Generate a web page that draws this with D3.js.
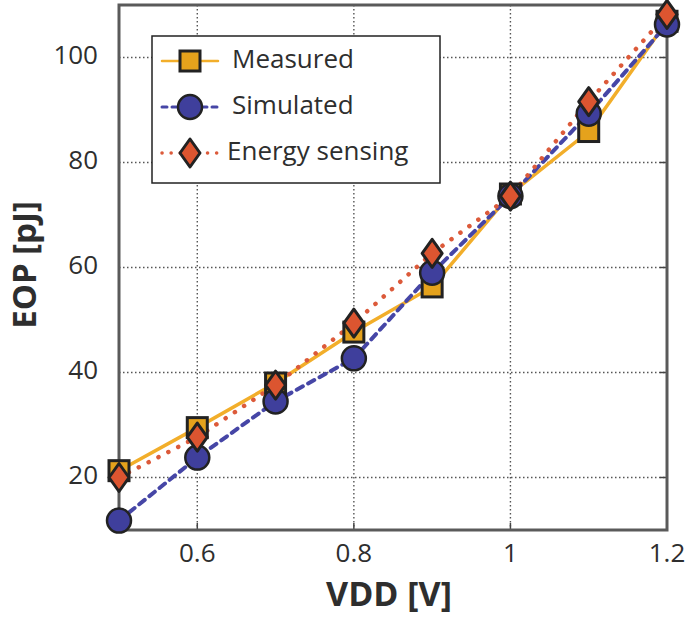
<!DOCTYPE html>
<html>
<head>
<meta charset="utf-8">
<script src="https://cdn.jsdelivr.net/npm/d3@7"></script>
<style>
  body { margin: 0; background: #fff; }
  text { font-family: "Open Sans", Lato, sans-serif; fill: #2e2e2e; }
</style>
</head>
<body>
<div id="chart"></div>
<script>
var vdd = [0.5, 0.6, 0.7, 0.8, 0.9, 1.0, 1.1, 1.2];
var measured = [21.3, 29.5, 38, 47.7, 56.3, 74, 85.9, 106.9];
var simulated = [11.8, 23.8, 34.5, 42.7, 59, 73.6, 89.3, 106.3];
var energySensing = [20, 27.7, 37.6, 49.4, 62.7, 73.6, 91.6, 108.2];
var xTicks = [0.6, 0.8, 1, 1.2];
var yTicks = [20, 40, 60, 80, 100];
var seriesNames = ["Measured", "Simulated", "Energy sensing"];

var width = 698, height = 619;
var margin = { top: 5, right: 31, bottom: 89, left: 119 };

var svg = d3.select("#chart")
    .append("svg")
    .attr("width", width)
    .attr("height", height);

var pw = width - margin.left - margin.right,
    ph = height - margin.top - margin.bottom;

var g = svg.append("g")
    .attr("transform", "translate(" + margin.left + "," + margin.top + ")");

var x = d3.scaleLinear().domain([0.5, 1.2]).range([0, pw]);
var y = d3.scaleLinear().domain([10, 110]).range([ph, 0]);

// grid
g.append("g")
    .selectAll("line")
    .data(xTicks.filter(function (d) { return d < 1.2; }))
    .enter()
    .append("line")
    .attr("x1", function (d) { return x(d); })
    .attr("x2", function (d) { return x(d); })
    .attr("y1", 0)
    .attr("y2", ph)
    .attr("stroke", "#555")
    .attr("stroke-width", 1.4)
    .style("stroke-dasharray", "1.5,2.5");

g.append("g")
    .selectAll("line")
    .data(yTicks)
    .enter()
    .append("line")
    .attr("x1", 0)
    .attr("x2", pw)
    .attr("y1", function (d) { return y(d); })
    .attr("y2", function (d) { return y(d); })
    .attr("stroke", "#555")
    .attr("stroke-width", 1.4)
    .style("stroke-dasharray", "1.5,2.5");

// inner tick marks on bottom and right
g.append("g")
    .selectAll("line")
    .data(xTicks)
    .enter()
    .append("line")
    .attr("x1", function (d) { return x(d); })
    .attr("x2", function (d) { return x(d); })
    .attr("y1", ph)
    .attr("y2", ph - 7)
    .attr("stroke", "#444")
    .attr("stroke-width", 1.5);

g.append("g")
    .selectAll("line")
    .data(yTicks)
    .enter()
    .append("line")
    .attr("x1", pw)
    .attr("x2", pw - 7)
    .attr("y1", function (d) { return y(d); })
    .attr("y2", function (d) { return y(d); })
    .attr("stroke", "#444")
    .attr("stroke-width", 1.5);

// frame
g.append("rect")
    .attr("width", pw)
    .attr("height", ph)
    .attr("fill", "none")
    .attr("stroke", "#5a5a5a")
    .attr("stroke-width", 3);

// tick labels
g.append("g")
    .selectAll("text")
    .data(xTicks)
    .enter()
    .append("text")
    .attr("x", function (d) { return x(d); })
    .attr("y", ph + 25)
    .attr("text-anchor", "middle")
    .attr("dominant-baseline", "middle")
    .style("font-size", "26px")
    .text(function (d) { return d3.format("~g")(d); });

g.append("g")
    .selectAll("text")
    .data(yTicks)
    .enter()
    .append("text")
    .attr("x", -21)
    .attr("y", function (d) { return y(d); })
    .attr("text-anchor", "end")
    .attr("dominant-baseline", "middle")
    .style("font-size", "26px")
    .text(function (d) { return d; });

// axis titles
svg.append("text")
    .attr("x", 389)
    .attr("y", 597)
    .attr("text-anchor", "middle")
    .attr("dominant-baseline", "middle")
    .style("font-size", "34px")
    .style("font-weight", "bold")
    .text("VDD [V]");

svg.append("text")
    .attr("transform", "translate(27,265) rotate(-90)")
    .attr("text-anchor", "middle")
    .attr("dominant-baseline", "middle")
    .style("font-size", "33px")
    .style("font-weight", "bold")
    .text("EOP [pJ]");

var series = [
    { name: seriesNames[0], values: measured, color: "#f2ae2a", fill: "#e5a21c", dash: null, width: 3.5, shape: "square" },
    { name: seriesNames[1], values: simulated, color: "#4646a6", fill: "#3f3f9c", dash: "7,6", width: 4, shape: "circle" },
    { name: seriesNames[2], values: energySensing, color: "#dc5a3a", fill: "#dc5530", dash: "0.1,11", width: 4.5, shape: "diamond" }
];

var line = d3.line()
    .x(function (d, i) { return x(vdd[i]); })
    .y(function (d) { return y(d); });

var drawMarker = function (sel, s, cx, cy) {
    if (s.shape === "square") {
        sel.append("rect")
            .attr("x", cx - 10).attr("y", cy - 10)
            .attr("width", 20).attr("height", 20)
            .attr("fill", s.fill).attr("stroke", "#222").attr("stroke-width", 3);
    } else if (s.shape === "circle") {
        sel.append("circle")
            .attr("cx", cx).attr("cy", cy).attr("r", 12)
            .attr("fill", s.fill).attr("stroke", "#222").attr("stroke-width", 2.5);
    } else {
        sel.append("path")
            .attr("d", "M" + cx + "," + (cy - 14) + "L" + (cx + 10) + "," + cy + "L" + cx + "," + (cy + 14) + "L" + (cx - 10) + "," + cy + "Z")
            .attr("fill", s.fill).attr("stroke", "#222").attr("stroke-width", 3)
            .attr("stroke-linejoin", "round");
    }
};

series.forEach(function (s) {
    g.append("path")
        .datum(s.values)
        .attr("d", line)
        .attr("fill", "none")
        .attr("stroke", s.color)
        .attr("stroke-width", s.width)
        .attr("stroke-linecap", "round")
        .style("stroke-dasharray", s.dash);
});

series.forEach(function (s) {
    var mg = g.append("g");
    s.values.forEach(function (v, i) {
        drawMarker(mg, s, x(vdd[i]), y(v));
    });
});

// legend
var legend = svg.append("g");
legend.append("rect")
    .attr("x", 152).attr("y", 36)
    .attr("width", 288).attr("height", 147)
    .attr("fill", "#fff")
    .attr("stroke", "#222")
    .attr("stroke-width", 1.5);

series.forEach(function (s, i) {
    var ly = 61 + i * 46;
    legend.append("line")
        .attr("x1", 162).attr("x2", 218)
        .attr("y1", ly).attr("y2", ly)
        .attr("stroke", s.color)
        .attr("stroke-width", s.width - 1)
        .attr("stroke-linecap", "round")
        .style("stroke-dasharray", s.dash === null ? null : (i === 1 ? "5,5" : "0.1,9"));
    drawMarker(legend, s, 190, ly);
    legend.append("text")
        .attr("x", i === 2 ? 227 : 232)
        .attr("y", ly)
        .attr("dominant-baseline", "middle")
        .style("font-size", "26px")
        .text(s.name);
});
</script>
</body>
</html>
